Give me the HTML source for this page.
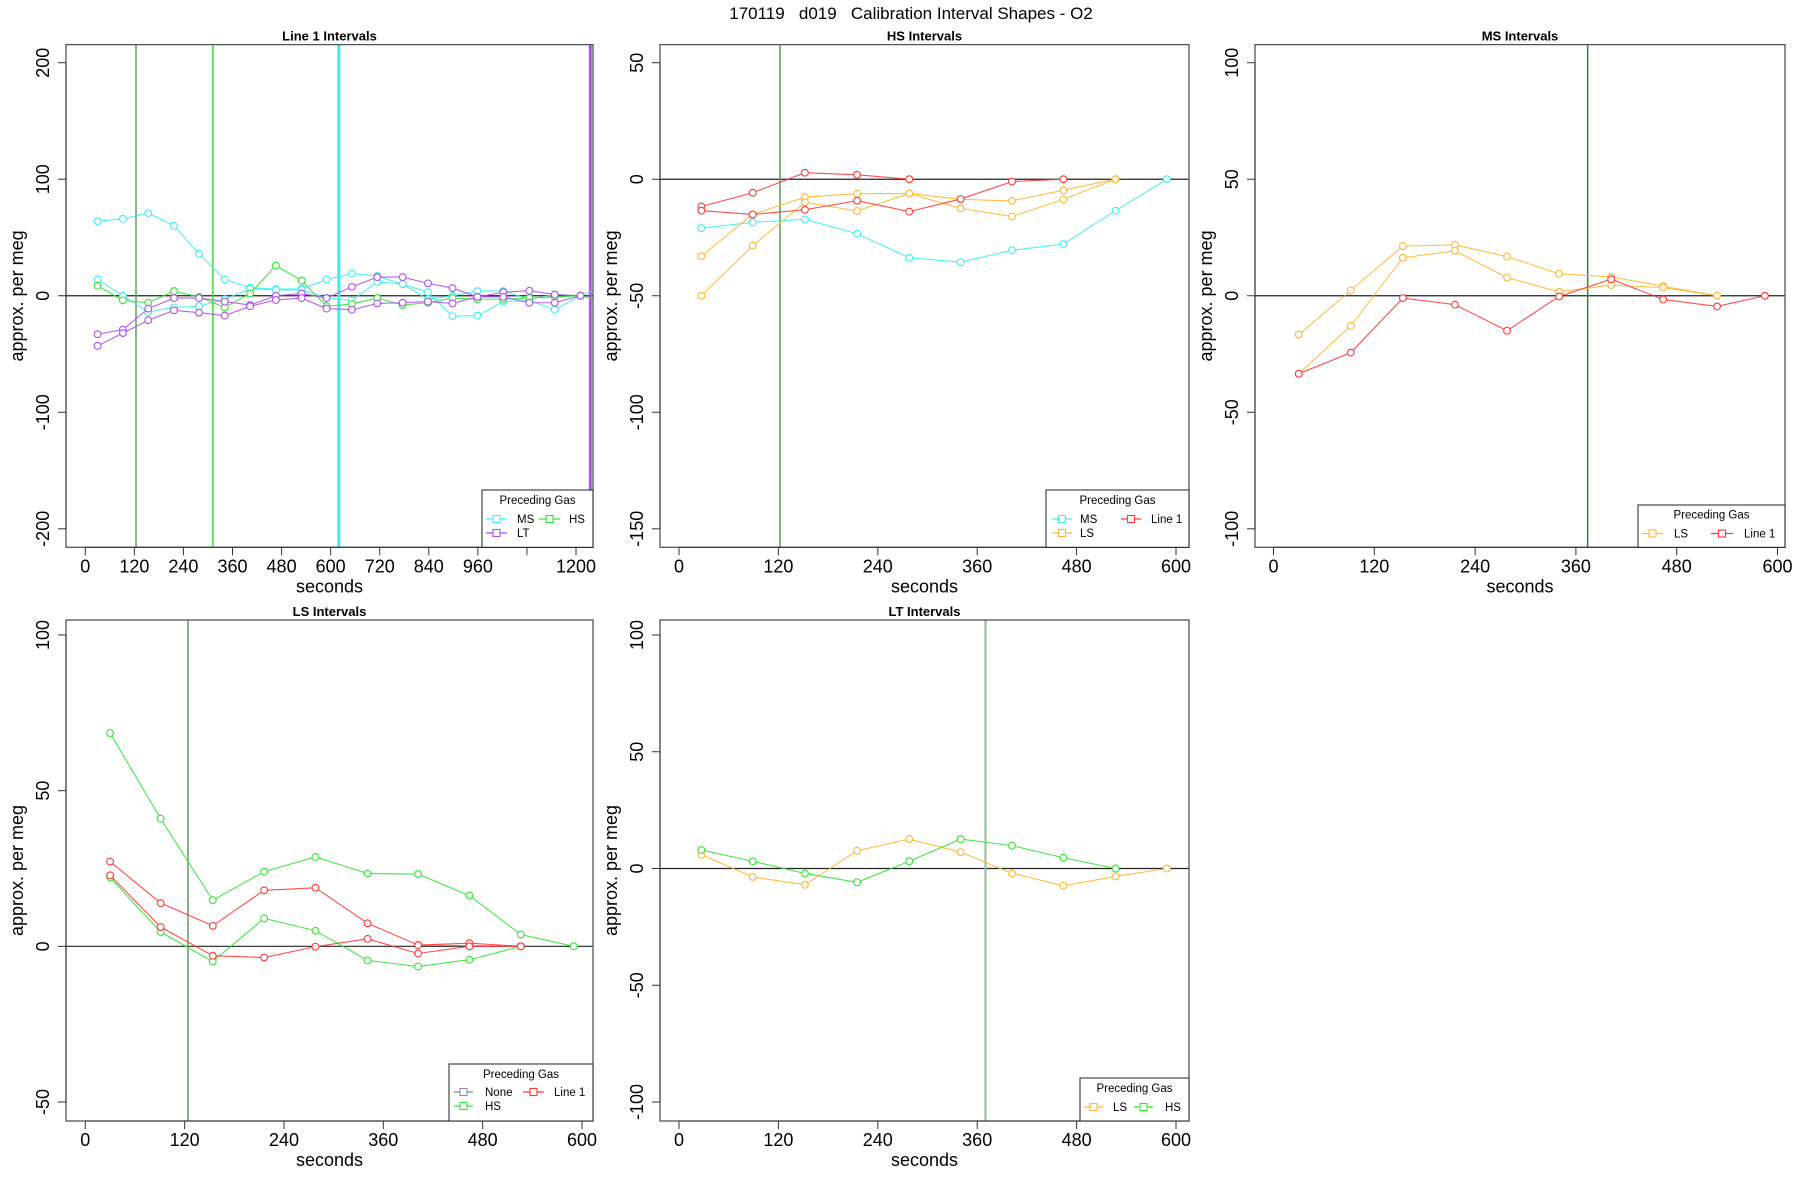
<!DOCTYPE html>
<html><head><meta charset="utf-8"><style>
html,body{margin:0;padding:0;background:#fff;}
svg{display:block;font-family:"Liberation Sans",Arial,sans-serif;}
</style></head><body>
<svg id="chart" width="1800" height="1200" viewBox="0 0 1800 1200" xmlns="http://www.w3.org/2000/svg">
<text x="911" y="19" font-size="17" text-anchor="middle" xml:space="preserve" style="white-space:pre">170119   d019   Calibration Interval Shapes - O2</text>
</svg>
<script>
// ---------- DATA ----------
const p1X = [30,92,154,217,278,341,403,466,529,590,652,714,776,838,898,959,1022,1086,1148,1211,1273];
const p1MsA = [64,66,71,60,36,14,7,5.6,6,14,19,17,10,3,-17.5,-17,-5,-4,-12,0,9];
const p1MsB = [14,0,-14,-10,-9,-3,6,5,5,-2,-4,12,10,-3,0,4,4,-3,1,0,null];
const p1Hs = [8.6,-4,-6,4,-1,-10,2,26,13,-9,-7,-2,-8,-6,-2,-3,-3,-2,-1,0,-5];
const p1LtA = [-33,-29,-11,-2,-2,-5,-8,0,2,-2,7.6,16,16,10.6,6.6,-1,3,4.3,1,0,null];
const p1LtB = [-43,-32,-21,-12.5,-14.5,-17,-9,-3.6,-2,-11,-12,-6.6,-6,-5,-6.6,-1,-1,-6,-6,0,null];
const p1VLines = [124,312,620,1235];
const p1XTicks = [0,120,240,360,480,600,720,840,960,1080,1200];
const p1XTickLabels = ["0","120","240","360","480","600","720","840","960","","1200"];
const p1YTicks = [200,100,0,-100,-200];

const p2X = [27,89,152,215,278,340,402,464,527,589];
const p2LineA = [-11.7,-5.8,2.8,1.9,0,null,null,null,null,null];
const p2LineB = [-13.5,-15.1,-13.1,-9.2,-13.9,-8.5,-1,0,null,null];
const p2LsA = [-33,-15.1,-7.7,-6.2,-6.1,-8.6,-9.3,-4.7,0,null];
const p2LsB = [-50,-28.5,-9.9,-13.6,-6.1,-12.5,-16,-8.6,0,null];
const p2Ms = [-21,-18.5,-17.2,-23.4,-33.7,-35.6,-30.5,-27.8,-13.5,0];
const p2VLines = [122];
const p2YTicks = [50,0,-50,-100,-150];

const p3X = [30,92,154,216,278,340,402,464,528,585];
const p3LsA = [-16.7,2.3,21.3,21.8,16.8,9.4,8.1,4.1,0,null];
const p3LsB = [-33.5,-12.9,16.3,19.3,7.8,1.7,4.6,3.5,0,null];
const p3Line = [-33.5,-24.4,-1,-3.8,-15,-0.3,7.1,-1.6,-4.6,0];
const p3VLines = [374];
const p3YTicks = [100,50,0,-50,-100];

const p4X = [30,91,154,216,278,341,402,464,526,590];
const p4HsA = [68.5,41.0,14.8,24.0,28.7,23.4,23.2,16.3,3.8,0];
const p4HsB = [22.1,4.6,-4.9,9.0,5.0,-4.5,-6.5,-4.3,0,null];
const p4LineA = [27.2,13.9,6.6,18.0,18.8,7.4,0.4,1.0,0,null];
const p4LineB = [22.8,6.2,-3.0,-3.6,-0.1,2.4,-2.3,0,0,null];
const p4None = [null,null,null,null,null,null,0.4,0.2,0,null];
const p4VLines = [124];
const p4YTicks = [100,50,0,-50];

const p5X = [27,89,152,215,278,340,402,464,527,589];
const p5Ls = [5.9,-3.6,-7.0,7.6,12.6,7.0,-2.1,-7.4,-3.4,0];
const p5Hs = [7.9,3.1,-2.1,-5.9,3.1,12.6,9.8,4.6,0,null];
const p5VLines = [370];
const p5YTicks = [100,50,0,-50,-100];

const xTicks600 = [0,120,240,360,480,600];

// ---------- COLORS ----------
const C = {ms:"#3ff0f0", hs:"#33e633", lt:"#b050f0", ls:"#ffb833", line1:"#ff3a3a", none:"#909090"};

const NS = "http://www.w3.org/2000/svg";
const svg = document.getElementById("chart");
function el(tag, attrs, parent){
  const e = document.createElementNS(NS, tag);
  for (const k in attrs) e.setAttribute(k, attrs[k]);
  (parent || svg).appendChild(e);
  return e;
}
function linScale(d0, r0, d1, r1){ return v => r0 + (v - d0) * (r1 - r0) / (d1 - d0); }

function panel(cfg){
  const g = el("g", {});
  
  
  const [L,T,R,B] = cfg.box;
  const sx = linScale(cfg.xd[0], cfg.xr[0], cfg.xd[1], cfg.xr[1]);
  const sy = linScale(cfg.yd[0], cfg.yr[0], cfg.yd[1], cfg.yr[1]);
  const cid = "clip-" + cfg.name;
  const cp = el("clipPath", {id: cid}, g);
  el("rect", {x:L, y:T, width:R-L, height:B-T}, cp);

  const t = el("text", {x:(L+R)/2, y:T-4, "font-size":13, "font-weight":"bold", "text-anchor":"middle"}, g);
  t.textContent = cfg.title;
  
  

  const plot = el("g", {"clip-path":"url(#"+cid+")"}, g);
  const z = el("line", {x1:L, x2:R, y1:sy(0), y2:sy(0), stroke:"#222", "stroke-width":1.2}, plot);
  
  
  cfg.vlines.forEach((v, i) => {
    const ln = el("line", {x1:sx(v), x2:sx(v), y1:T, y2:B, stroke:cfg.vcolors[i], "stroke-width":cfg.vwidths[i]}, plot);
    
    
  });
  cfg.series.forEach(s => {
    const sg = el("g", {}, plot);
    
    
    let pts = [];
    const segs = [];
    cfg.x.forEach((xv, i) => {
      const v = s.values[i];
      if (v === null || v === undefined) { if (pts.length) segs.push(pts); pts = []; return; }
      pts.push([sx(xv), sy(v)]);
    });
    if (pts.length) segs.push(pts);
    segs.forEach(seg => {
      const pl = el("polyline", {points: seg.map(p => p.join(",")).join(" "), fill:"none", stroke:s.color, "stroke-width":1.1, "stroke-opacity":0.9}, sg);
      
      
      seg.forEach(p => {
        const c = el("circle", {cx:p[0], cy:p[1], r:3.4, fill:"#fff", stroke:s.color, "stroke-width":1.1}, sg);
        
        
      });
    });
  });
  const bx = el("rect", {x:L, y:T, width:R-L, height:B-T, fill:"none", stroke:"#555", "stroke-width":1.3}, g);
  
  

  const xa = el("g", {}, g);
  
  
  el("line", {x1:sx(cfg.xTicks[0]), x2:sx(cfg.xTicks[cfg.xTicks.length-1]), y1:B, y2:B, stroke:"#333"}, xa);
  cfg.xTicks.forEach((v, i) => {
    el("line", {x1:sx(v), x2:sx(v), y1:B, y2:B+8, stroke:"#333"}, xa);
    const tl = el("text", {x:sx(v), y:B+25, "font-size":18, "text-anchor":"middle"}, xa);
    tl.textContent = cfg.xLabels[i];
    
    
  });
  const xt = el("text", {x:(L+R)/2, y:B+45, "font-size":18, "text-anchor":"middle"}, g);
  xt.textContent = "seconds";
  
  

  const ya = el("g", {}, g);
  
  
  el("line", {x1:L, x2:L, y1:sy(cfg.yTicks[0]), y2:sy(cfg.yTicks[cfg.yTicks.length-1]), stroke:"#333"}, ya);
  cfg.yTicks.forEach(v => {
    el("line", {x1:L-8, x2:L, y1:sy(v), y2:sy(v), stroke:"#333"}, ya);
    const tx = L - 17, ty = sy(v);
    const tl = el("text", {x:tx, y:ty, "font-size":18, "text-anchor":"middle", transform:"rotate(-90 "+tx+" "+ty+")"}, ya);
    tl.textContent = String(v);
    
    
  });
  const yx = L - 43, yy = (T + B) / 2;
  const yt = el("text", {x:yx, y:yy, "font-size":18, "text-anchor":"middle", transform:"rotate(-90 "+yx+" "+yy+")"}, g);
  yt.textContent = "approx. per meg";
  
  

  const lg = cfg.legend;
  const lgg = el("g", {}, g);
  
  
  el("rect", {x:lg.box[0], y:lg.box[1], width:lg.box[2]-lg.box[0], height:lg.box[3]-lg.box[1], fill:"#fff", stroke:"#222", "stroke-width":1}, lgg);
  const lt = el("text", {x:(lg.box[0]+lg.box[2])/2, y:lg.titleY+4, "font-size":11.5, "text-anchor":"middle"}, lgg);
  lt.textContent = "Preceding Gas";
  
  
  lg.entries.forEach(en => {
    const eg = el("g", {}, lgg);
    
    
    el("line", {x1:en.x1, x2:en.x2, y1:en.y, y2:en.y, stroke:en.color, "stroke-width":1.2}, eg);
    el("rect", {x:(en.x1+en.x2)/2-3.5, y:en.y-3.5, width:7, height:7, fill:"#fff", stroke:en.color, "stroke-width":1.1}, eg);
    const et = el("text", {x:en.tx, y:en.y+4, "font-size":11.5}, eg);
    et.textContent = en.label;
  });
}

const TOP = [44.6, 547.3], BOT = [620, 1121];

panel({name:"line1-intervals-panel", title:"Line 1 Intervals",
  box:[66, TOP[0], 593, TOP[1]], xd:[0,1200], xr:[85.3,576], yd:[200,-200], yr:[62.7,528.8],
  x:p1X, xTicks:p1XTicks, xLabels:p1XTickLabels, yTicks:p1YTicks,
  vlines:p1VLines, vcolors:["#5aa05a","#33dd33","#33f0f0","#b050f0"], vwidths:[1.5,1.5,3,3],
  series:[{label:"ms-a",values:p1MsA,color:C.ms},{label:"ms-b",values:p1MsB,color:C.ms},
          {label:"hs",values:p1Hs,color:C.hs},{label:"lt-a",values:p1LtA,color:C.lt},{label:"lt-b",values:p1LtB,color:C.lt}],
  legend:{box:[482,490,593,547.3], titleY:500, entries:[
    {label:"MS",color:C.ms,x1:486,x2:507,tx:517,y:519},
    {label:"HS",color:C.hs,x1:539,x2:560,tx:569,y:519},
    {label:"LT",color:C.lt,x1:486,x2:507,tx:517,y:533}]}
});

panel({name:"hs-intervals-panel", title:"HS Intervals",
  box:[660, TOP[0], 1189, TOP[1]], xd:[0,600], xr:[679,1176], yd:[50,-150], yr:[62.7,528.8],
  x:p2X, xTicks:xTicks600, xLabels:xTicks600.map(String), yTicks:p2YTicks,
  vlines:p2VLines, vcolors:["#5a9a5a"], vwidths:[1.5],
  series:[{label:"ms",values:p2Ms,color:C.ms},{label:"ls-a",values:p2LsA,color:C.ls},{label:"ls-b",values:p2LsB,color:C.ls},
          {label:"line1-a",values:p2LineA,color:C.line1},{label:"line1-b",values:p2LineB,color:C.line1}],
  legend:{box:[1046,490,1189,547.3], titleY:500, entries:[
    {label:"MS",color:C.ms,x1:1052,x2:1072,tx:1080,y:519},
    {label:"Line 1",color:C.line1,x1:1121,x2:1141,tx:1151,y:519},
    {label:"LS",color:C.ls,x1:1052,x2:1072,tx:1080,y:533}]}
});

panel({name:"ms-intervals-panel", title:"MS Intervals",
  box:[1255, TOP[0], 1785, TOP[1]], xd:[0,600], xr:[1273.5,1777.5], yd:[100,-100], yr:[62.7,528.8],
  x:p3X, xTicks:xTicks600, xLabels:xTicks600.map(String), yTicks:p3YTicks,
  vlines:p3VLines, vcolors:["#2e852e"], vwidths:[1.5],
  series:[{label:"ls-a",values:p3LsA,color:C.ls},{label:"ls-b",values:p3LsB,color:C.ls},{label:"line1",values:p3Line,color:C.line1}],
  legend:{box:[1638,505,1785,547.3], titleY:514.5, entries:[
    {label:"LS",color:C.ls,x1:1642,x2:1663,tx:1674,y:533.5},
    {label:"Line 1",color:C.line1,x1:1711,x2:1733,tx:1744,y:533.5}]}
});

panel({name:"ls-intervals-panel", title:"LS Intervals",
  box:[66, BOT[0], 593, BOT[1]], xd:[0,600], xr:[85.3,582], yd:[100,-50], yr:[635,1102],
  x:p4X, xTicks:xTicks600, xLabels:xTicks600.map(String), yTicks:p4YTicks,
  vlines:p4VLines, vcolors:["#5aa05a"], vwidths:[1.5],
  series:[{label:"none",values:p4None,color:C.none},{label:"hs-a",values:p4HsA,color:C.hs},{label:"hs-b",values:p4HsB,color:C.hs},
          {label:"line1-a",values:p4LineA,color:C.line1},{label:"line1-b",values:p4LineB,color:C.line1}],
  legend:{box:[449,1064,593,1121], titleY:1074, entries:[
    {label:"None",color:C.none,x1:454,x2:473,tx:485,y:1092},
    {label:"Line 1",color:C.line1,x1:523,x2:544,tx:554,y:1092},
    {label:"HS",color:C.hs,x1:454,x2:473,tx:485,y:1106}]}
});

panel({name:"lt-intervals-panel", title:"LT Intervals",
  box:[660, BOT[0], 1189, BOT[1]], xd:[0,600], xr:[679,1176], yd:[100,-100], yr:[635,1102],
  x:p5X, xTicks:xTicks600, xLabels:xTicks600.map(String), yTicks:p5YTicks,
  vlines:p5VLines, vcolors:["#8cbf8c"], vwidths:[2],
  series:[{label:"ls",values:p5Ls,color:C.ls},{label:"hs",values:p5Hs,color:C.hs}],
  legend:{box:[1080,1078,1189,1121], titleY:1088, entries:[
    {label:"LS",color:C.ls,x1:1084,x2:1103,tx:1113,y:1107},
    {label:"HS",color:C.hs,x1:1134,x2:1153,tx:1165,y:1107}]}
});
</script>
</body></html>
